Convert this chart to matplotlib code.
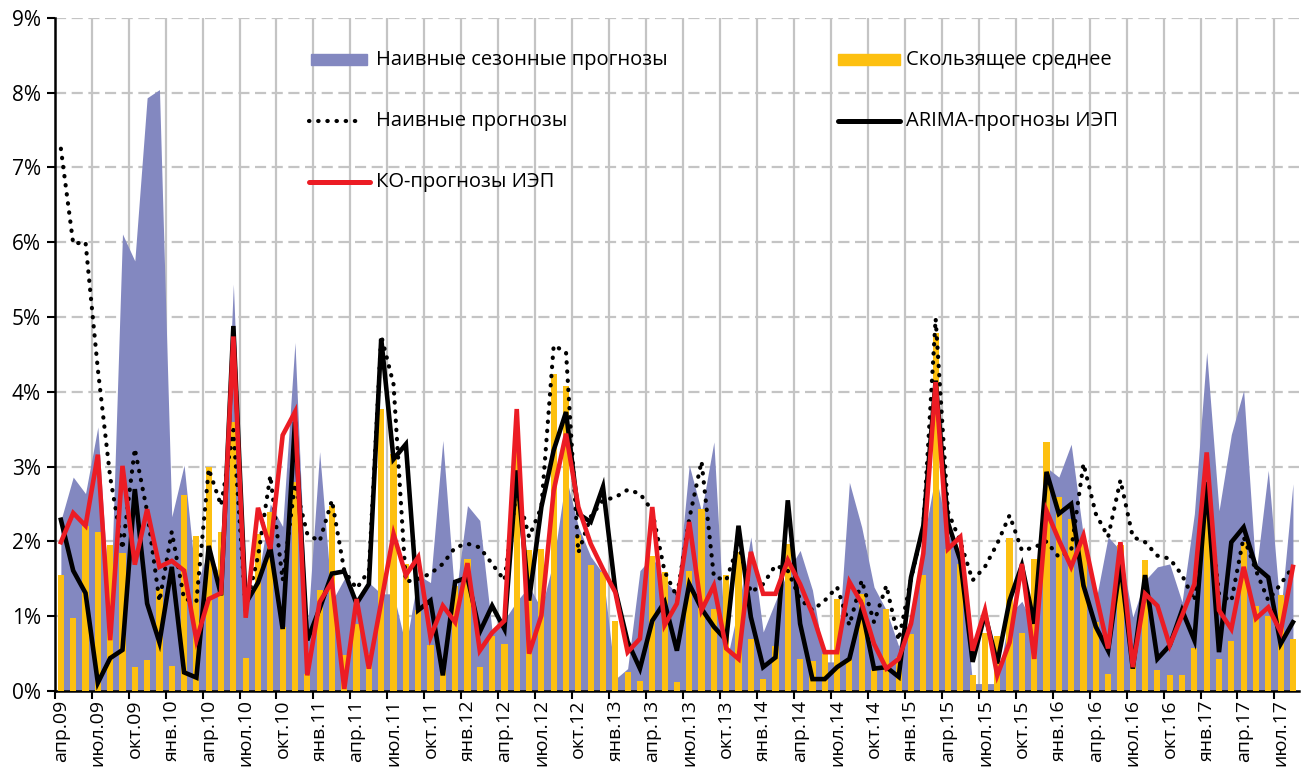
import numpy as np
import matplotlib
matplotlib.use("Agg")
import matplotlib.pyplot as plt
from matplotlib.patches import Rectangle
from matplotlib.lines import Line2D

plt.rcParams['font.family'] = ['Open Sans', 'DejaVu Sans']

# ошибки прогнозов, % (апр.09 - авг.17)
naive_seasonal = [2.28, 2.86, 2.64, 3.53, 1.0, 6.11, 5.75, 7.93, 8.04, 2.33,
                  3.02, 1.4, 1.9, 1.5, 5.44, 1.2, 1.5, 2.5, 2.2, 4.66,
                  0.8, 3.2, 1.2, 1.5, 1.2, 1.45, 1.3, 1.3, 0.6, 1.55,
                  1.45, 3.35, 1.2, 2.48, 2.28, 0.8, 0.95, 1.2, 1.4, 1.1,
                  1.75, 2.86, 2.2, 1.8, 1.57, 0.16, 0.3, 1.61, 1.8, 1.48,
                  1.3, 3.02, 2.4, 3.33, 0.37, 1.13, 2.06, 0.79, 1.2, 1.6,
                  1.88, 1.35, 0.39, 0.39, 2.79, 2.19, 1.39, 1.08, 0.6, 1.0,
                  2.0, 2.9, 2.1, 1.8, 0.1, 0.1, 0.1, 1.03, 1.2, 0.85,
                  2.99, 2.86, 3.3, 2.06, 1.2, 2.06, 1.88, 0.99, 1.48, 1.66,
                  1.7, 1.19, 2.37, 4.53, 2.41, 3.43, 4.02, 1.57, 2.95, 1.03,
                  2.77]

moving_avg = [1.55, 0.98, 2.2, 2.13, 1.95, 1.84, 0.32, 0.41, 1.36, 0.34,
              2.62, 2.07, 2.99, 2.13, 3.6, 0.44, 2.1, 2.39, 0.86, 2.8,
              0.23, 1.35, 2.48, 0.48, 0.9, 0.5, 3.77, 3.17, 1.7, 1.08,
              0.62, 0.3, 1.4, 1.77, 0.32, 0.73, 0.63, 3.2, 1.88, 1.9,
              4.24, 4.08, 2.09, 1.68, 1.59, 0.94, 0.25, 0.14, 1.81, 1.59,
              0.12, 1.6, 2.43, 1.1, 1.55, 1.86, 0.69, 0.16, 0.6, 1.97,
              0.43, 0.4, 0.5, 1.23, 0.43, 1.3, 0.28, 1.1, 0.45, 0.76,
              1.55, 4.78, 1.9, 1.7, 0.21, 0.77, 0.73, 2.04, 0.77, 1.77,
              3.33, 2.59, 2.3, 2.0, 0.92, 0.23, 1.95, 0.39, 1.75, 0.28,
              0.21, 0.21, 0.57, 2.5, 0.43, 0.67, 1.99, 1.14, 1.01, 1.28,
              0.69]

naive = [7.25, 5.98, 6.0, 4.3, 2.86, 1.9, 3.24, 2.4, 1.2, 2.13,
         1.23, 1.2, 2.97, 2.48, 3.49, 1.1, 1.8, 2.88, 1.48, 2.77,
         2.1, 2.0, 2.55, 1.61, 1.37, 1.61, 4.75, 4.1, 1.46, 1.5,
         1.57, 1.7, 1.92, 1.97, 1.92, 1.7, 1.48, 2.7, 2.06, 2.46,
         4.62, 4.53, 1.85, 2.33, 2.55, 2.59, 2.69, 2.64, 2.41, 1.6,
         1.26, 2.3, 3.07, 1.53, 1.48, 1.97, 1.32, 1.43, 1.68, 1.61,
         1.23, 1.08, 1.21, 1.39, 0.88, 1.48, 0.92, 1.41, 0.68, 1.5,
         2.2, 4.98, 2.4, 2.0, 1.48, 1.66, 1.97, 2.35, 1.88, 1.92,
         2.0, 1.79, 1.88, 3.04, 2.37, 2.06, 2.82, 2.06, 1.99, 1.81,
         1.77, 1.55, 1.21, 2.8, 1.3, 1.2, 2.06, 1.61, 1.21, 1.43,
         1.66]

arima = [2.29, 1.61, 1.31, 0.11, 0.44, 0.55, 2.7, 1.17, 0.65, 1.66,
         0.25, 0.18, 1.94, 1.28, 4.88, 1.17, 1.45, 1.92, 0.83, 3.6,
         0.68, 1.1, 1.57, 1.6, 1.17, 1.43, 4.71, 3.1, 3.3, 1.08,
         1.21, 0.21, 1.46, 1.52, 0.79, 1.14, 0.83, 2.95, 1.21, 2.46,
         3.22, 3.73, 2.37, 2.26, 2.73, 1.35, 0.66, 0.3, 0.94, 1.19,
         0.54, 1.43, 1.1, 0.86, 0.68, 2.21, 0.99, 0.32, 0.45, 2.55,
         0.9, 0.16, 0.16, 0.32, 0.43, 1.1, 0.3, 0.32, 0.19, 1.52,
         2.21, 4.15, 2.25, 1.75, 0.39, 1.03, 0.37, 1.21, 1.68, 0.9,
         2.93, 2.37, 2.5, 1.41, 0.86, 0.54, 1.7, 0.3, 1.55, 0.43,
         0.61, 1.08, 0.68, 2.77, 0.52, 1.99, 2.19, 1.66, 1.52, 0.63,
         0.92]

ko = [1.99, 2.38, 2.21, 3.16, 0.68, 3.01, 1.69, 2.43, 1.66, 1.74,
      1.61, 0.68, 1.23, 1.31, 4.74, 0.98, 2.45, 1.9, 3.42, 3.73,
      0.21, 1.19, 1.46, 0.03, 1.23, 0.3, 1.19, 2.1, 1.55, 1.79,
      0.72, 1.14, 0.92, 1.71, 0.54, 0.78, 0.94, 3.77, 0.5, 1.01,
      2.68, 3.44, 2.46, 1.97, 1.63, 1.32, 0.52, 0.7, 2.46, 0.88,
      1.17, 2.26, 1.08, 1.41, 0.57, 0.43, 1.86, 1.3, 1.3, 1.75,
      1.43, 1.03, 0.52, 0.52, 1.46, 1.17, 0.63, 0.3, 0.43, 0.9,
      1.84, 4.13, 1.9, 2.06, 0.54, 1.08, 0.21, 0.65, 1.7, 0.43,
      2.41, 2.02, 1.66, 2.08, 1.3, 0.57, 1.99, 0.32, 1.3, 1.14,
      0.61, 1.01, 1.43, 3.19, 1.08, 0.83, 1.66, 0.97, 1.12, 0.79,
      1.66]

tick_labels = ['апр.09', 'июл.09', 'окт.09', 'янв.10', 'апр.10', 'июл.10', 'окт.10',
               'янв.11', 'апр.11', 'июл.11', 'окт.11', 'янв.12', 'апр.12', 'июл.12',
               'окт.12', 'янв.13', 'апр.13', 'июл.13', 'окт.13', 'янв.14', 'апр.14',
               'июл.14', 'окт.14', 'янв.15', 'апр.15', 'июл.15', 'окт.15', 'янв.16',
               'апр.16', 'июл.16', 'окт.16', 'янв.17', 'апр.17', 'июл.17']

C_BLUE = '#8388c0'
C_YELLOW = '#fdc010'
C_RED = '#ec1c24'
C_GRID = '#c4c4c4'

n = len(naive)
x = np.arange(n)

fig = plt.figure(figsize=(13.03, 7.73), dpi=100)
ax = fig.add_axes([0.042, 0.106, 0.955, 0.871])

ax.fill_between(x, naive_seasonal, 0, color=C_BLUE, lw=0, zorder=2)
ax.bar(x, moving_avg, width=0.5, color=C_YELLOW, zorder=3)
ax.plot(x, naive, color='black', lw=3.0, linestyle=(0, (0.1, 2.1)),
        dash_capstyle='round', zorder=4)
ax.plot(x, arima, color='black', lw=3.3, solid_joinstyle='miter', zorder=5)
ax.plot(x, ko, color=C_RED, lw=3.3, solid_joinstyle='miter', zorder=6)

ax.set_xlim(-0.5, n - 0.5)
ax.set_ylim(0, 9)

# сетка
bounds = np.arange(2.5, n - 0.5, 3)
for b in bounds:
    ax.axvline(b, color=C_GRID, lw=1.6, linestyle='-', zorder=1)
for v in range(1, 10):
    ax.axhline(v, color=C_GRID, lw=1.6, linestyle=(0, (5, 2.5)), zorder=1)

ax.set_yticks(range(0, 10))
ax.set_yticklabels([f'{v}%' for v in range(0, 10)], fontsize=15)
ax.set_xticks(np.concatenate([[-0.5], bounds]))
ax.set_xticklabels([])
ax.set_xticks(np.arange(0, n, 3), minor=True)
ax.set_xticklabels(tick_labels, minor=True, rotation=90, fontsize=14)
ax.tick_params(axis='x', which='major', length=6, width=1.5, direction='out')
ax.tick_params(axis='x', which='minor', length=0, pad=6)
ax.tick_params(axis='y', length=6, width=1.5, direction='out', pad=4)

for s in ['top', 'right']:
    ax.spines[s].set_visible(False)
for s in ['left', 'bottom']:
    ax.spines[s].set_linewidth(1.8)

# легенда
tr = ax.transAxes
def fx(px):
    return (px - 54.7) / 1244.3
def fy(py):
    return (691 - py) / 673.0

rows = [60, 121, 182]
ph = 11 / 673.0
ax.add_patch(Rectangle((fx(311), fy(rows[0]) - ph / 2), fx(367) - fx(311), ph,
                       transform=tr, color=C_BLUE, zorder=7, clip_on=False))
ax.add_patch(Rectangle((fx(838), fy(rows[0]) - ph / 2), fx(900) - fx(838), ph,
                       transform=tr, color=C_YELLOW, zorder=7, clip_on=False))
ax.add_line(Line2D([fx(309), fx(364)], [fy(rows[1])] * 2, transform=tr, color='black',
                   lw=3.0, linestyle=(0, (0.1, 2.1)), dash_capstyle='round', zorder=7))
ax.add_line(Line2D([fx(838), fx(900)], [fy(rows[1])] * 2, transform=tr, color='black',
                   lw=3.6, solid_capstyle='round', zorder=7))
ax.add_line(Line2D([fx(309), fx(370)], [fy(rows[2])] * 2, transform=tr, color=C_RED,
                   lw=3.6, solid_capstyle='round', zorder=7))

legend_items = [(376, rows[0], 'Наивные сезонные прогнозы'),
                (906, rows[0], 'Скользящее среднее'),
                (376, rows[1], 'Наивные прогнозы'),
                (906, rows[1], 'ARIMA-прогнозы ИЭП'),
                (376, rows[2], 'КО-прогнозы ИЭП')]
for px, py, txt in legend_items:
    ax.text(fx(px), fy(py), txt, transform=tr, fontsize=14.5, va='center', ha='left', zorder=8)

fig.savefig('out.png', dpi=100)
